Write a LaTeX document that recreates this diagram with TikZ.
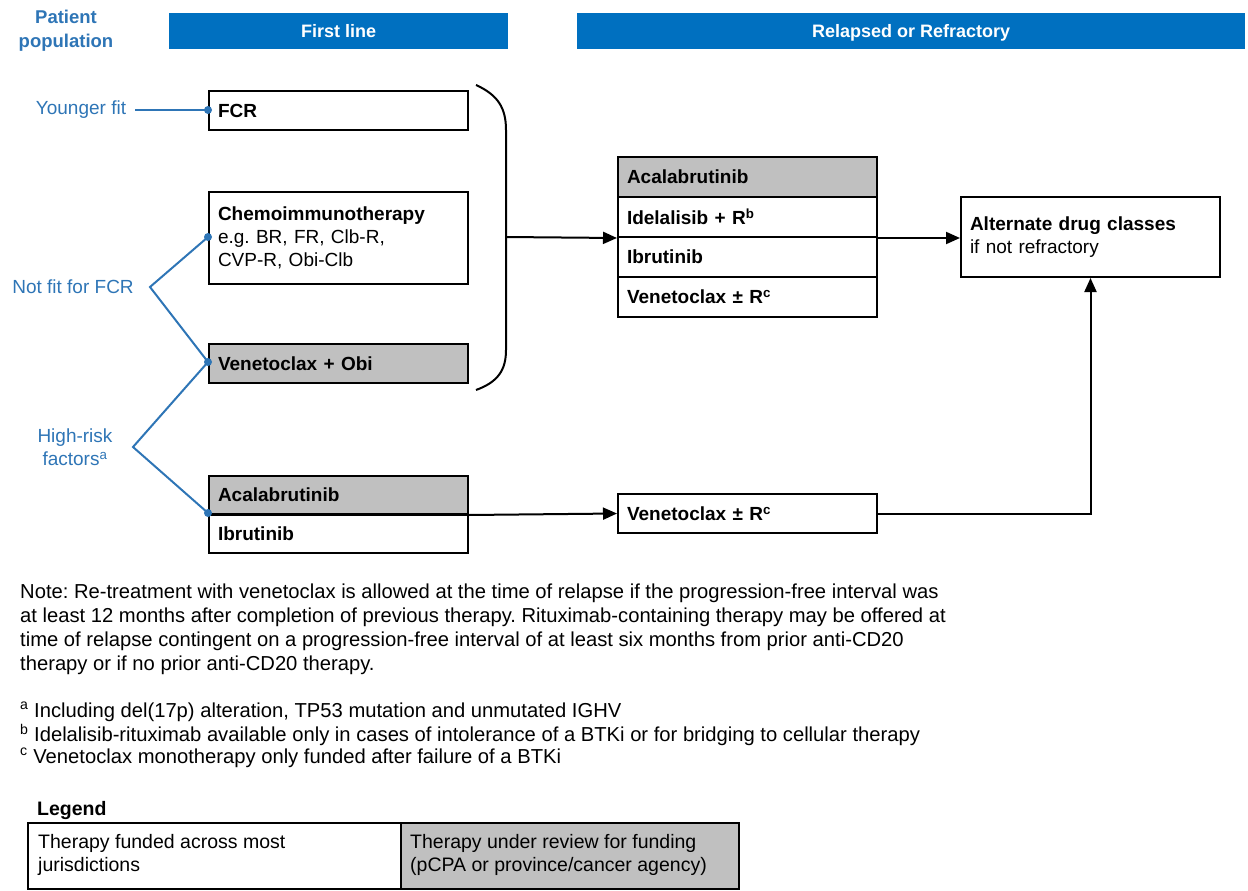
\documentclass[tikz,border=0pt]{standalone}
\usepackage{fontspec}
\setmainfont{Liberation Sans}
\usetikzlibrary{arrows.meta}
\definecolor{hdrblue}{HTML}{0070C0}
\definecolor{lblblue}{HTML}{2E75B6}
\definecolor{boxgray}{HTML}{C0C0C0}
\frenchspacing
\begin{document}
\begin{tikzpicture}[x=1pt,y=-1pt,
  every node/.style={font=\fontsize{19}{23}\selectfont},
  box/.style={draw, line width=2pt, anchor=north west, inner xsep=9pt, inner ysep=0pt,
    text width=241pt, align=left, minimum width=259pt},
  grayfill/.style={fill=boxgray},
  hdr/.style={fill=hdrblue, text=white, font=\fontsize{18}{22}\selectfont\bfseries, inner sep=0pt,
    text height=13pt, text depth=0pt},
  lbl/.style={text=lblblue, align=center, inner sep=0pt},
  bl/.style={draw=lblblue, line width=2pt},
  dot/.style={fill=lblblue, circle, inner sep=0pt, minimum size=8pt},
  arr/.style={draw, line width=2pt, -{Triangle[length=14pt,width=12pt]}},
  note/.style={anchor=west, inner sep=0pt, font=\fontsize{20.2}{24}\selectfont}
]
\useasboundingbox (0,0) rectangle (1248,891);

% headers
\node[lbl, font=\fontsize{18.5}{24}\selectfont\bfseries] (pp) at (66,31) {Patient\\population};
\node[hdr, minimum width=339pt, minimum height=36pt, anchor=north west] (fl) at (169,13) {First line};
\node[hdr, minimum width=668pt, minimum height=36pt, anchor=north west] (rr) at (577,13) {Relapsed or Refractory};

% first line boxes
\node[box, minimum height=39pt] (fcr) at (208,90) {\textbf{FCR}};
\node[box, minimum height=92pt] (chemo) at (208,191) {\textbf{Chemoimmunotherapy}\\e.g. BR, FR, Clb-R,\\CVP-R, Obi-Clb};
\node[box, grayfill, minimum height=39pt] (veno) at (208,343) {\textbf{Venetoclax + Obi}};
\node[box, grayfill, minimum height=38pt] (aca1) at (208,475) {\textbf{Acalabrutinib}};
\node[box, minimum height=39pt] (ibr1) at (208,513) {\textbf{Ibrutinib}};

% relapsed stack
\node[box, grayfill, minimum height=40pt] (s1) at (617,156) {\textbf{Acalabrutinib}};
\node[box, minimum height=40pt] (s2) at (617,196) {\textbf{Idelalisib + R\textsuperscript{b}}};
\node[box, minimum height=40pt] (s3) at (617,236) {\textbf{Ibrutinib}};
\node[box, minimum height=40pt] (s4) at (617,276) {\textbf{Venetoclax \textpm{} R\textsuperscript{c}}};

\node[box, minimum height=39pt] (ven2) at (617,493) {\textbf{Venetoclax \textpm{} R\textsuperscript{c}}};
\node[box, minimum height=80pt] (alt) at (960,196) {\textbf{Alternate drug classes}\\if not refractory};

% bracket
\coordinate (bt) at (476,85);
\coordinate (bb) at (476,390);
\coordinate (bm) at (506,237);
\draw[line width=2pt] (bt) .. controls (498,95) and (506,108) .. (506,130) -- (506,350)
   .. controls (506,370) and (498,382) .. (bb);

% arrows
\draw[arr] (bm) -- (s2.south west);
\draw[arr] (s2.south east) -- (alt.west |- s2.south east);
\draw[arr] (aca1.south east) -- (ven2.west);
\draw[line width=2pt] (aca1.south west) -- (aca1.south east);
\draw[arr] (ven2.east) -| (alt.south);

% patient population labels
\node[lbl] (yf) at (81,110) {Younger fit};
\node[lbl] (nf) at (73,287) {Not fit for FCR};
\node[lbl] (hr) at (75,447) {High-risk\\factors\textsuperscript{a}};
\coordinate (nfv) at (150,287);
\coordinate (hrv) at (133,447);
\coordinate (p1) at (208,110);
\coordinate (p2) at (208,237);
\coordinate (p3) at (208,362);
\coordinate (p4) at (208,513);
\draw[bl] (135,110) -- (p1);
\draw[bl] (p2) -- (nfv) -- (p3);
\draw[bl] (p3) -- (hrv) -- (p4);
\node[dot] at (p1) {};
\node[dot] at (p2) {};
\node[dot] at (p3) {};
\node[dot] at (p4) {};

% notes
\node[note] (n1) at (20,593) {Note: Re-treatment with venetoclax is allowed at the time of relapse if the progression-free interval was};
\node[note] (n2) at (20,617) {at least 12 months after completion of previous therapy. Rituximab-containing therapy may be offered at};
\node[note] (n3) at (20,641) {time of relapse contingent on a progression-free interval of at least six months from prior anti-CD20};
\node[note] (n4) at (20,665) {therapy or if no prior anti-CD20 therapy.};
\node[note] (f1) at (20,712) {\textsuperscript{a} Including del(17p) alteration, TP53 mutation and unmutated IGHV};
\node[note] (f2) at (20,735) {\textsuperscript{b} Idelalisib-rituximab available only in cases of intolerance of a BTKi or for bridging to cellular therapy};
\node[note] (f3) at (20,758) {\textsuperscript{c} Venetoclax monotherapy only funded after failure of a BTKi};

% legend
\node[note, font=\fontsize{19.5}{23}\selectfont\bfseries] (lg) at (37,810) {Legend};
\draw[line width=2pt] (28,823) rectangle (401,889);
\draw[line width=2pt, fill=boxgray] (401,823) rectangle (739,889);
\node[note, align=left, anchor=north west, font=\fontsize{19.5}{23.5}\selectfont] (l1) at (38,834) {Therapy funded across most\\jurisdictions};
\node[note, align=left, anchor=north west, font=\fontsize{19.5}{23.5}\selectfont] (l2) at (410,834) {Therapy under review for funding\\(pCPA or province/cancer agency)};
\end{tikzpicture}
\end{document}
